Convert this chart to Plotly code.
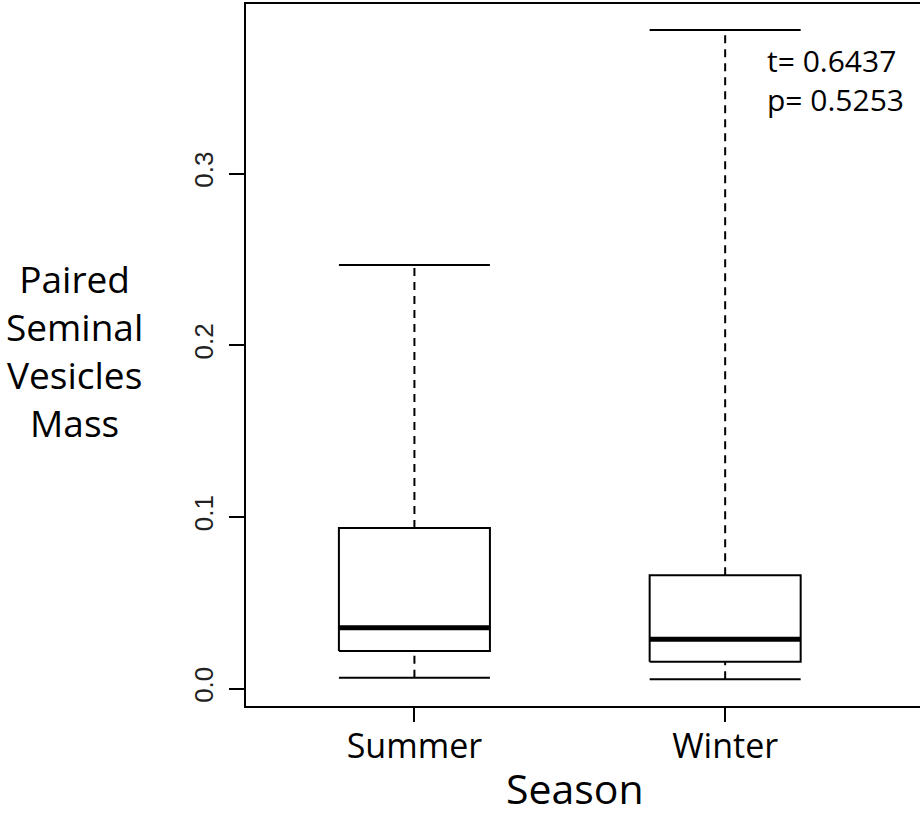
import plotly.graph_objects as go

# ---- data ----
seasons = ["Summer", "Winter"]
positions = [1, 2]
lower_whisker = [0.0064, 0.0055]
q1 = [0.0220, 0.0157]
median = [0.0355, 0.0288]
q3 = [0.0936, 0.0660]
upper_whisker = [0.2468, 0.3836]
y_tick_vals = [0.0, 0.1, 0.2, 0.3]
y_tick_text = ["0.0", "0.1", "0.2", "0.3"]
stats_text = ["t= 0.6437", "p= 0.5253"]

half_w = 0.243

box_x, box_y = [], []
med_x, med_y = [], []
wh_x, wh_y = [], []
cap_x, cap_y = [], []
for c, lo, a, m, b, hi in zip(positions, lower_whisker, q1, median, q3, upper_whisker):
    box_x += [c - half_w, c + half_w, c + half_w, c - half_w, c - half_w, None]
    box_y += [a, a, b, b, a, None]
    med_x += [c - half_w, c + half_w, None]
    med_y += [m, m, None]
    wh_x += [c, c, None, c, c, None]
    wh_y += [lo, a, None, b, hi, None]
    cap_x += [c - half_w, c + half_w, None, c - half_w, c + half_w, None]
    cap_y += [lo, lo, None, hi, hi, None]

fig = go.Figure()
fig.add_trace(go.Scatter(x=wh_x, y=wh_y, mode="lines",
                         line=dict(color="black", width=2, dash="8px,6px"),
                         hoverinfo="skip"))
fig.add_trace(go.Scatter(x=cap_x, y=cap_y, mode="lines",
                         line=dict(color="black", width=2), hoverinfo="skip"))
fig.add_trace(go.Scatter(x=box_x, y=box_y, mode="lines", fill="toself",
                         fillcolor="white",
                         line=dict(color="black", width=2), hoverinfo="skip"))
fig.add_trace(go.Scatter(x=med_x, y=med_y, mode="lines",
                         line=dict(color="black", width=5), hoverinfo="skip"))

fig.update_layout(
    width=920, height=819,
    margin=dict(l=246, r=0, t=4, b=113),
    paper_bgcolor="white", plot_bgcolor="white",
    showlegend=False,
    xaxis=dict(range=[0.458, 2.627], tickvals=positions, ticktext=seasons,
               showgrid=False, zeroline=False,
               showline=True, mirror=True, linecolor="black", linewidth=2,
               ticks="outside", ticklen=14, tickwidth=2, tickcolor="black",
               ticklabelstandoff=-5,
               tickfont=dict(family="Open Sans", size=34, color="black")),
    yaxis=dict(range=[-0.0101, 0.3988], tickvals=y_tick_vals, ticktext=y_tick_text,
               showgrid=False, zeroline=False,
               showline=True, linecolor="black", linewidth=2,
               ticks="outside", ticklen=15, tickwidth=2, tickcolor="black",
               tickangle=-90, ticklabelstandoff=6,
               tickfont=dict(family="Liberation Sans", size=26, color="#222")),
    annotations=[
        dict(text="Season", xref="paper", yref="paper", x=0.488, y=(706 - 818) / 702,
             xanchor="center", yanchor="bottom", showarrow=False,
             font=dict(family="Open Sans", size=41, color="black")),
        dict(text="Paired<br>Seminal<br>Vesicles<br>Mass", xref="paper", yref="y",
             x=-0.255, y=0.197, xanchor="center", yanchor="middle",
             showarrow=False, align="center",
             font=dict(family="Open Sans", size=37, color="black")),
        dict(text=stats_text[0] + "<br>" + stats_text[1], xref="paper", yref="paper",
             x=(765 - 246) / 674, y=(706 - 80) / 702, xanchor="left", yanchor="middle",
             showarrow=False, align="left",
             font=dict(family="Open Sans", size=30, color="black")),
    ],
)

fig.write_html(
    "out.html",
    config={"displayModeBar": False},
    post_script="document.body.style.margin='0';document.body.style.overflow='hidden';",
)
